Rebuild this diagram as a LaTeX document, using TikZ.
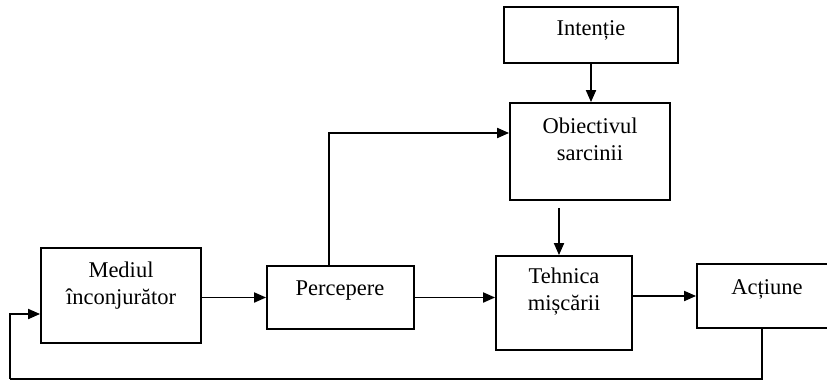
\documentclass[tikz,border=0pt]{standalone}
\usepackage{fontspec}
\setmainfont{Liberation Serif}
\usetikzlibrary{arrows.meta,calc}
\begin{document}
\begin{tikzpicture}[x=1pt,y=-1pt,
  box/.style={draw,line width=1.8pt,rectangle,inner sep=0pt},
  txt/.style={font=\fontsize{22.5}{27}\selectfont,align=center,inner sep=0pt},
  arr/.style={line width=1.8pt,-{Triangle[length=12pt,width=10pt]}},
  ln/.style={line width=1.8pt}]
\useasboundingbox (0,0) rectangle (827,383);
% boxes
\node[box,minimum width=174pt,minimum height=56pt] (int) at (591,35) {};
\node[box,minimum width=160pt,minimum height=97pt] (obj) at (590,151.5) {};
\node[box,minimum width=160pt,minimum height=95pt] (med) at (121,295.5) {};
\node[box,minimum width=147pt,minimum height=63pt] (perc) at (340.5,297.5) {};
\node[box,minimum width=136pt,minimum height=94pt] (tech) at (564,303) {};
\node[box,minimum width=134pt,minimum height=64pt] (act) at (764,296) {};
% texts
\node[txt] (intT) at (591,30) {Intenție};
\node[txt] (objT) at (590,139) {Obiectivul\\sarcinii};
\node[txt] (medT) at (121,286) {Mediul\\înconjurător};
\node[txt] (percT) at (340,291) {Percepere};
\node[txt] (techT) at (564,292) {Tehnica\\mișcării};
\node[txt] (actT) at (767,289) {Acțiune};
% connectors
\coordinate (up) at (329,0);
\coordinate (fb) at (10,379);
\draw[arr] (int.south) -- (int.south |- obj.north);
\draw[arr] (perc.north -| up) |- ([yshift=18.5pt]obj.west);
\draw[arr,shorten <=7pt] ([xshift=-31pt]obj.south) -- ([xshift=-31pt]obj.south |- tech.north);
\draw[arr] (perc.west -| med.east) -- (perc.west);
\draw[arr] (perc.east) -- (perc.east -| tech.west);
\draw[arr] (tech.east |- act.west) -- (act.west);
\draw[ln] ([xshift=-2pt]act.south) |- (fb);
\draw[arr] (fb) |- ([yshift=-18.5pt]med.west);
\end{tikzpicture}
\end{document}
